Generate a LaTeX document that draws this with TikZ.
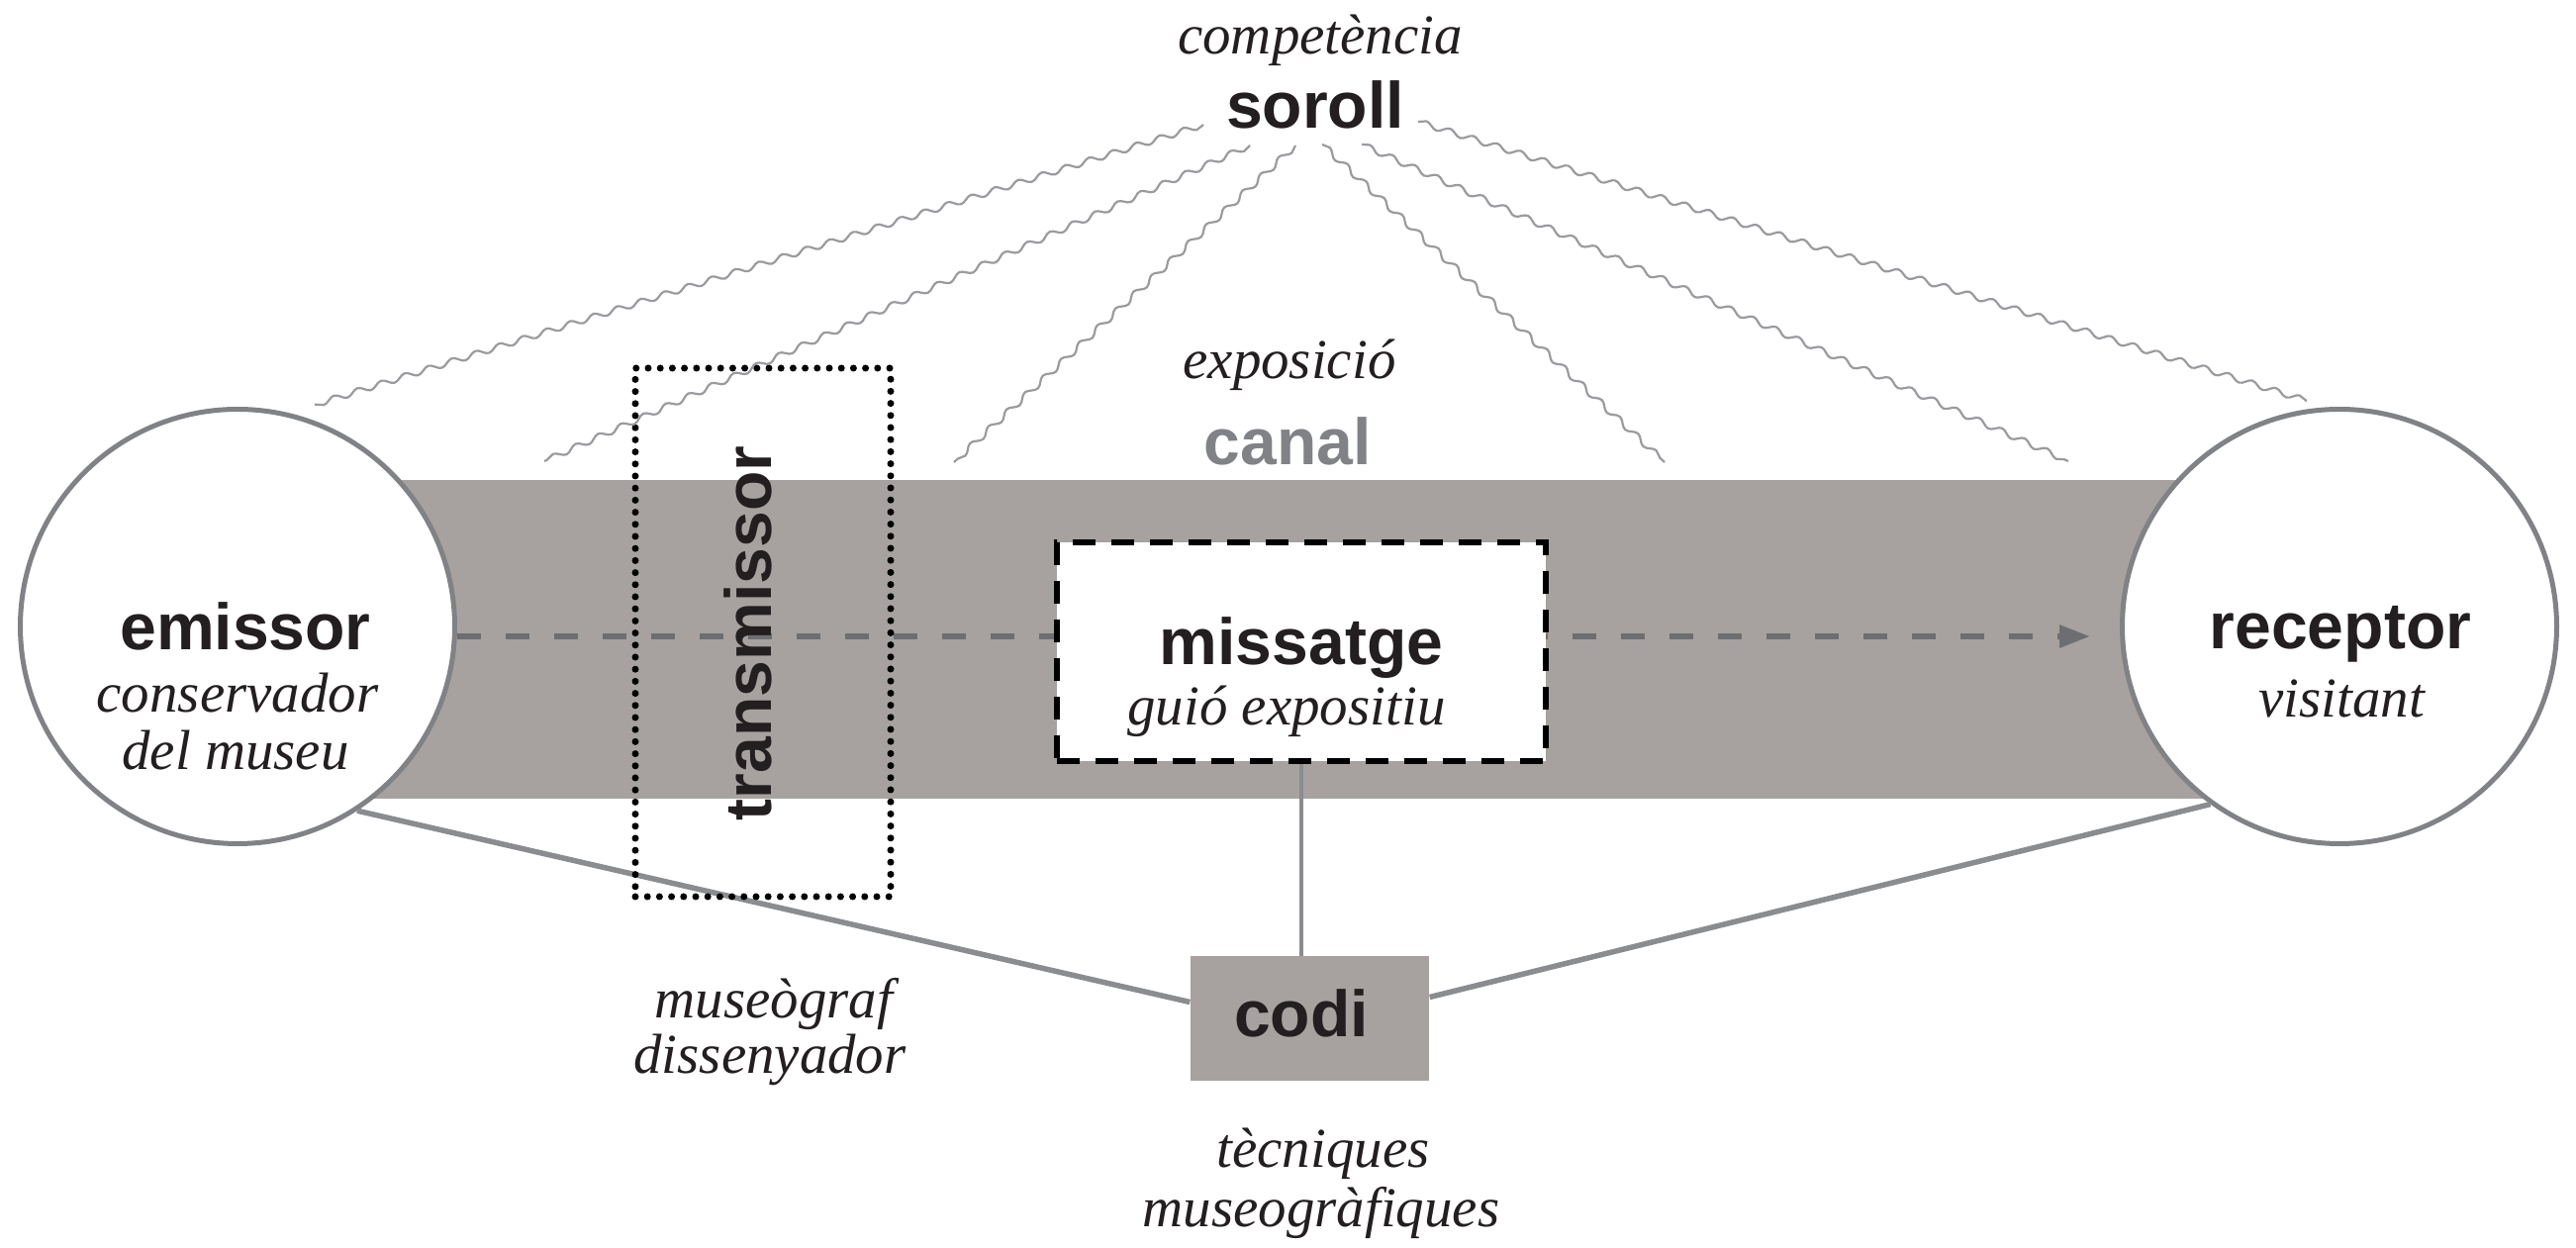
\documentclass[tikz,border=0pt]{standalone}
\usepackage{fontspec}
\setmainfont{Liberation Serif}
\newfontfamily\hv{Liberation Sans}
\usetikzlibrary{decorations.pathmorphing,arrows.meta}
\definecolor{bandgray}{HTML}{A7A29F}
\definecolor{ringgray}{HTML}{808285}
\definecolor{linegray}{HTML}{8A8C8F}
\definecolor{arrowgray}{HTML}{6D6E71}
\definecolor{wavegray}{HTML}{9A9B9E}
\definecolor{ink}{HTML}{231F20}
\definecolor{canalgray}{HTML}{808285}
\begin{document}
\begin{tikzpicture}[x=0.1mm,y=-0.1mm,
  boldlbl/.style={font=\hv\bfseries\fontsize{18.8pt}{22pt}\selectfont, text=ink, inner sep=0pt, anchor=base},
  itallbl/.style={font=\itshape\fontsize{16.2pt}{19pt}\selectfont, text=ink, inner sep=0pt, anchor=base},
  ring/.style={circle, draw=ringgray, line width=0.5mm, fill=white, minimum size=43.9mm, inner sep=0pt},
  link/.style={draw=linegray, line width=0.55mm},
  noise/.style={draw=wavegray, line width=0.22mm, decorate, decoration={snake, segment length=2.5mm, amplitude=0.3mm}},
]
\useasboundingbox (0,0) rectangle (2603,1261);

% channel band
\node[fill=bandgray, minimum width=212.6mm, minimum height=32.2mm, inner sep=0pt, anchor=north west] (band) at (238,484) {};

% circles
\node[ring] (emissor) at (240,633) {};
\node[ring] (receptor) at (2364,633) {};

% dashed arrow
\draw[arrowgray, line width=0.6mm, dash pattern=on 2.4mm off 2.5mm, -{Triangle[length=3.1mm,width=2.2mm]}]
  ([yshift=-1mm]emissor.east) -- ([yshift=-1mm,xshift=-3mm]receptor.west);

% message box
\node[draw=black, fill=white, line width=0.65mm, dash pattern=on 2.3mm off 1.6mm, minimum width=49.4mm, minimum height=22.1mm, inner sep=0pt] (missatge) at (1315,658.5) {};

% code box
\node[fill=bandgray, minimum width=24.1mm, minimum height=12.6mm, inner sep=0pt] (codi) at (1323.5,1029.5) {};

% links to code
\draw[link] (emissor.-57) -- ([yshift=1.7mm]codi.west);
\draw[link] (receptor.-126) -- ([yshift=2.2mm]codi.east);
\draw[link, line width=0.45mm] (missatge.south) -- (missatge.south |- codi.north);

% transmitter dotted box
\node[draw=black, line width=0.7mm, dash pattern=on 0mm off 1.22mm, line cap=round, minimum width=25.8mm, minimum height=53.4mm, inner sep=0pt] (transbox) at (771,639) {};
\node[boldlbl, rotate=90, anchor=center] (transT) at (756,640) {transmissor};

% noise lines
\coordinate (n1s) at (1216,126); \coordinate (n1e) at (318,409);
\coordinate (n2s) at (1263,147); \coordinate (n2e) at (550,466);
\coordinate (n3s) at (1309,147); \coordinate (n3e) at (964,467);
\coordinate (n4s) at (1336,146); \coordinate (n4e) at (1682,467);
\coordinate (n5s) at (1376,146); \coordinate (n5e) at (2090,466);
\coordinate (n6s) at (1433,123); \coordinate (n6e) at (2331,405);
\foreach \i in {1,...,6} { \draw[noise] (n\i s) -- (n\i e); }

% labels
\node[itallbl] (compT) at (1334,55) {competència};
\node[boldlbl] (soroll) at (1329,130) {soroll};
\node[itallbl] (expoT) at (1303,383) {exposició};
\node[boldlbl, text=canalgray] (canalT) at (1301,470) {canal};
\node[boldlbl] (emissorT) at (248,657) {emissor};
\node[itallbl] (consT) at (240,720) {conservador};
\node[itallbl] (museuT) at (238,778) {del museu};
\node[boldlbl] (receptorT) at (2365,656) {receptor};
\node[itallbl] (visitT) at (2366,725) {visitant};
\node[boldlbl] (missT) at (1315,672) {missatge};
\node[itallbl] (guioT) at (1300,733) {guió expositiu};
\node[boldlbl] (codiT) at (1315,1048) {codi};
\node[itallbl] (mgT) at (782,1029) {museògraf};
\node[itallbl] (disT) at (778,1085) {dissenyador};
\node[itallbl] (tecT) at (1337,1180) {tècniques};
\node[itallbl] (mgqT) at (1335,1240) {museogràfiques};
\end{tikzpicture}
\end{document}
